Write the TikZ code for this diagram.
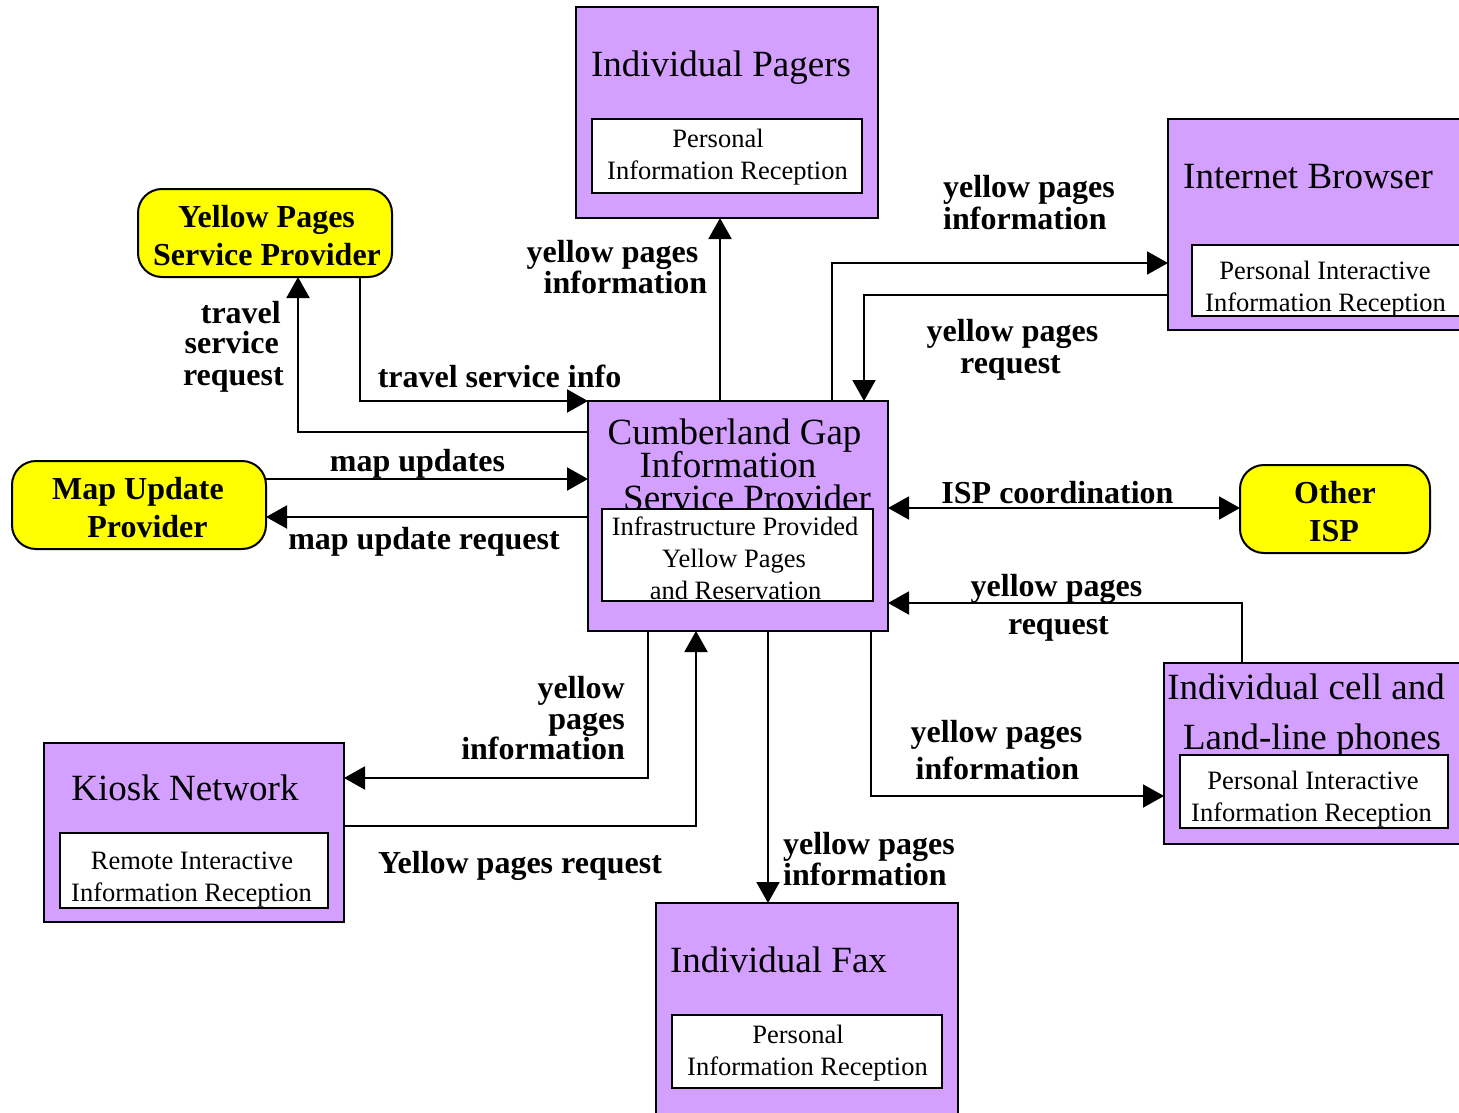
\documentclass[tikz,border=0pt]{standalone}
\usepackage{fontspec}
\setmainfont{Liberation Serif}
\usetikzlibrary{arrows.meta}
\definecolor{lav}{RGB}{212,160,255}
\definecolor{ylw}{RGB}{255,255,0}
\begin{document}
\begin{tikzpicture}[x=1pt,y=-1pt,
 box/.style={draw, line width=2pt, fill=lav, inner sep=0pt, outer sep=0pt},
 wbox/.style={draw, line width=2pt, fill=white, inner sep=0pt, outer sep=0pt},
 ybox/.style={draw, line width=2pt, fill=ylw, rounded corners=24pt, inner sep=0pt, outer sep=0pt},
 ttl/.style={font={\fontsize{37}{37}\selectfont}, anchor=base, inner sep=0pt},
 sub/.style={font={\fontsize{26.5}{26.5}\selectfont}, anchor=base, inner sep=0pt},
 lbl/.style={font={\fontsize{32}{32}\selectfont\bfseries}, anchor=base, inner sep=0pt},
 arr/.style={line width=2pt, -{Triangle[length=21pt,width=23pt]}},
 arrb/.style={line width=2pt, {Triangle[length=21pt,width=23pt]}-{Triangle[length=21pt,width=23pt]}}]
\useasboundingbox (0,0) rectangle (1459,1113);
\clip (0,0) rectangle (1459,1113);

% ---------- Individual Pagers
\node[box, minimum width=302pt, minimum height=211pt] (pag) at (727,112.5) {};
\node[ttl] (pagT) at (721,77) {Individual Pagers};
\node[wbox, minimum width=270pt, minimum height=74pt] (pagI) at (727,156) {};
\node[sub] (pagI1) at (718,147) {Personal};
\node[sub] (pagI2) at (727.5,179) {Information Reception};

% ---------- Internet Browser
\node[box, minimum width=332pt, minimum height=211pt] (ib) at (1334,224.5) {};
\node[ttl] (ibT) at (1308,188) {Internet Browser};
\node[wbox, minimum width=308pt, minimum height=71pt] (ibI) at (1346,280.5) {};
\node[sub] (ibI1) at (1325,279) {Personal Interactive};
\node[sub] (ibI2) at (1325.5,311) {Information Reception};

% ---------- Cumberland Gap ISP
\node[box, minimum width=300pt, minimum height=230pt] (cg) at (738,516) {};
\node[ttl] (cgT1) at (734.5,444) {Cumberland Gap};
\node[ttl] (cgT2) at (728,477) {Information};
\node[ttl] (cgT3) at (747,510) {Service Provider};
\node[wbox, minimum width=271pt, minimum height=92pt] (cgI) at (737.5,555) {};
\node[sub] (cgI1) at (735,535) {Infrastructure Provided};
\node[sub] (cgI2) at (734,567) {Yellow Pages};
\node[sub] (cgI3) at (735.5,599) {and Reservation};

% ---------- Kiosk Network
\node[box, minimum width=300pt, minimum height=179pt] (kio) at (194,832.5) {};
\node[ttl] (kioT) at (185,800) {Kiosk Network};
\node[wbox, minimum width=268pt, minimum height=75pt] (kioI) at (194,870.5) {};
\node[sub] (kioI1) at (192,869) {Remote Interactive};
\node[sub] (kioI2) at (191.5,901) {Information Reception};

% ---------- Individual cell and Land-line phones
\node[box, minimum width=336pt, minimum height=181pt] (cell) at (1332,753.5) {};
\node[ttl] (cellT1) at (1306,699) {Individual cell and};
\node[ttl] (cellT2) at (1312,749) {Land-line phones};
\node[wbox, minimum width=268pt, minimum height=73pt] (cellI) at (1314,791.5) {};
\node[sub] (cellI1) at (1313,789) {Personal Interactive};
\node[sub] (cellI2) at (1311.5,821) {Information Reception};

% ---------- Individual Fax
\node[box, minimum width=302pt, minimum height=227pt] (fax) at (807,1016.5) {};
\node[ttl] (faxT) at (778.5,972) {Individual Fax};
\node[wbox, minimum width=270pt, minimum height=73pt] (faxI) at (807,1051.5) {};
\node[sub] (faxI1) at (798,1043) {Personal};
\node[sub] (faxI2) at (807.5,1075) {Information Reception};

% ---------- Yellow providers
\node[ybox, minimum width=254pt, minimum height=88pt] (ypsp) at (265,233) {};
\node[lbl] (ypspT1) at (266.5,227) {Yellow Pages};
\node[lbl] (ypspT2) at (267,265) {Service Provider};

\node[ybox, minimum width=254pt, minimum height=88pt] (mup) at (139,505) {};
\node[lbl] (mupT1) at (138,499) {Map Update};
\node[lbl] (mupT2) at (147.5,537) {Provider};

\node[ybox, minimum width=190pt, minimum height=88pt] (oisp) at (1335,509) {};
\node[lbl] (oispT1) at (1335,503) {Other};
\node[lbl] (oispT2) at (1334,541) {ISP};

% ---------- Connectors
\draw[arr] (ypsp.south -| 360,0) |- (cg.north west);
\draw[arr] (cg.west |- 0,432) -| (ypsp.south -| 298,0);
\draw[arr] (mup.east |- 0,479) -- (cg.west |- 0,479);
\draw[arr] (cg.west |- 0,517) -- (mup.east |- 0,517);
\draw[arr] (cg.north -| 720,0) -- (pag.south -| 720,0);
\draw[arr] (cg.north -| 832,0) |- (ib.west |- 0,263);
\draw[arr] (ib.west |- 0,295) -| (cg.north -| 864,0);
\draw[arrb] (cg.east |- 0,508) -- (oisp.west |- 0,508);
\draw[arr] (cell.north -| 1242,0) |- (cg.east |- 0,603);
\draw[arr] (cg.south -| 648,0) |- (kio.east |- 0,778);
\draw[arr] (kio.east |- 0,826) -| (cg.south -| 696,0);
\draw[arr] (cg.south -| 768,0) -- (fax.north -| 768,0);
\draw[arr] (cg.south -| 871,0) |- (cell.west |- 0,796);

% ---------- Connector labels
\node[lbl] (l1a) at (612.5,262) {yellow pages};
\node[lbl] (l1b) at (625.5,293) {information};
\node[lbl, anchor=base west] (l2a) at (943,197) {yellow pages};
\node[lbl, anchor=base west] (l2b) at (943,229) {information};
\node[lbl] (l3a) at (1012.5,341) {yellow pages};
\node[lbl] (l3b) at (1010.5,373) {request};
\node[lbl] (l4) at (499.5,387) {travel service info};
\node[lbl, anchor=base east] (l5a) at (281,323) {travel};
\node[lbl, anchor=base east] (l5b) at (279,353) {service};
\node[lbl, anchor=base east] (l5c) at (284,385) {request};
\node[lbl] (l6) at (417.5,471) {map updates};
\node[lbl] (l7) at (424,549) {map update request};
\node[lbl] (l8) at (1057.5,503) {ISP coordination};
\node[lbl] (l9a) at (1056.5,596) {yellow pages};
\node[lbl] (l9b) at (1058.5,634) {request};
\node[lbl, anchor=base east] (l10a) at (625,698) {yellow};
\node[lbl, anchor=base east] (l10b) at (625,729) {pages};
\node[lbl, anchor=base east] (l10c) at (625,759) {information};
\node[lbl] (l11) at (520,873) {Yellow pages request};
\node[lbl] (l12a) at (996.5,742) {yellow pages};
\node[lbl] (l12b) at (997.5,779) {information};
\node[lbl, anchor=base west] (l13a) at (783,854) {yellow pages};
\node[lbl, anchor=base west] (l13b) at (783,885) {information};
\end{tikzpicture}
\end{document}
